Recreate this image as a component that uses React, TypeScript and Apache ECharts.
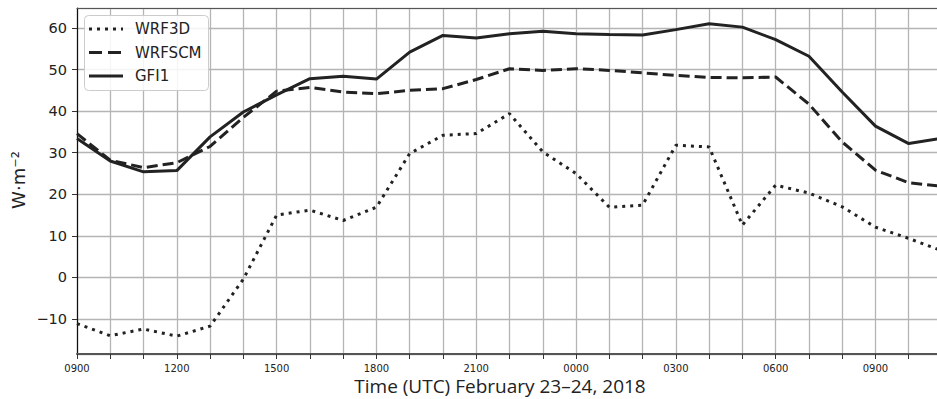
import React, { useEffect, useRef } from "react";
import * as echarts from "echarts";

const hours: number[] = Array.from({ length: 27 }, (_, i) => i); // 0 = 0900 Feb 23
const wrf3d = [-11.1, -14.0, -12.4, -14.1, -11.7, -0.4, 15.0, 16.2, 13.7, 16.9, 29.8, 34.2, 34.6, 39.4, 30.2, 25.0, 16.9, 17.4, 31.8, 31.4, 12.6, 22.2, 20.3, 17.0, 12.1, 9.4, 6.4];
const wrfscm = [34.6, 28.2, 26.4, 27.6, 31.5, 38.5, 44.8, 45.7, 44.6, 44.2, 45.0, 45.4, 47.6, 50.2, 49.8, 50.2, 49.8, 49.2, 48.6, 48.1, 48.0, 48.2, 41.7, 32.6, 25.8, 22.8, 21.9];
const gfi1 = [33.4, 28.0, 25.4, 25.7, 33.8, 39.8, 43.9, 47.8, 48.4, 47.7, 54.2, 58.2, 57.6, 58.6, 59.2, 58.6, 58.4, 58.3, 59.6, 61.0, 60.2, 57.2, 53.2, 44.6, 36.4, 32.2, 33.5];
const seriesNames = ["WRF3D", "WRFSCM", "GFI1"];
const yMin = -18.4;
const yMax = 64.8;

const hourLabel = (h: number) => {
  const hh = (9 + h) % 24;
  return (hh < 10 ? "0" : "") + hh + "00";
};

export default function App() {
  const ref = useRef<HTMLDivElement>(null);
  useEffect(() => {
    if (!ref.current) return;
    const chart = echarts.init(ref.current, undefined, { renderer: "svg" });
    const ink = "#222222";
    const dashes: (number[] | null)[] = [[3, 5], [11, 5], null];
    const legendDashes: (number[] | null)[] = [[3, 5], [13, 6], null];
    const pair = (arr: number[]) => hours.map((h, i) => [h, arr[i]]);
    const legendRows = [29, 52.5, 76];
    const legendGraphics: any[] = [
      {
        type: "rect",
        shape: { x: 84.5, y: 15.5, width: 124, height: 75, r: 4 },
        style: { fill: "rgba(255,255,255,0.85)", stroke: "#cccccc", lineWidth: 1 },
        z: 10,
      },
    ];
    seriesNames.forEach((name, i) => {
      legendGraphics.push({
        type: "line",
        shape: { x1: 89, y1: legendRows[i], x2: 123, y2: legendRows[i] },
        style: { stroke: ink, lineWidth: 3, lineDash: legendDashes[i] || undefined },
        z: 11,
      });
      legendGraphics.push({
        type: "text",
        x: 135,
        y: legendRows[i],
        style: {
          text: name,
          font: '15px "DejaVu Sans"',
          fill: ink,
          textAlign: "left",
          textVerticalAlign: "middle",
        },
        z: 11,
      });
    });
    chart.setOption({
      animation: false,
      backgroundColor: "#ffffff",
      grid: { left: 77, top: 8, right: 1.3, bottom: 45, containLabel: false },
      xAxis: [
        {
          type: "value",
          min: 0,
          max: 26,
          interval: 1,
          axisLine: { show: true, onZero: false, lineStyle: { color: "#555555", width: 2 } },
          axisTick: { show: true, length: 5, lineStyle: { color: "#333333", width: 1 } },
          axisLabel: {
            margin: 9,
            fontFamily: "DejaVu Sans",
            fontSize: 10,
            color: ink,
            formatter: (v: number) => (v % 3 === 0 ? hourLabel(v) : ""),
          },
          splitLine: { show: true, lineStyle: { color: "#b4b4b4", width: 1.3 } },
        },
        {
          type: "value",
          position: "top",
          min: 0,
          max: 26,
          axisLine: { show: true, onZero: false, lineStyle: { color: "#555555", width: 1.2 } },
          axisTick: { show: false },
          axisLabel: { show: false },
          splitLine: { show: false },
        },
      ],
      yAxis: {
        type: "value",
        min: yMin,
        max: yMax,
        splitNumber: 8,
        axisLine: { show: true, onZero: false, lineStyle: { color: "#111111", width: 1.2 } },
        axisTick: { show: true, length: 5, lineStyle: { color: "#333333" } },
        axisLabel: {
          margin: 10,
          showMinLabel: false,
          showMaxLabel: false,
          fontFamily: "DejaVu Sans",
          fontSize: 14.5,
          color: ink,
          formatter: (v: number) => String(v).replace("-", "\u2212"),
        },
        splitLine: { show: true, lineStyle: { color: "#b4b4b4", width: 1.3 } },
      },
      graphic: [
        {
          type: "text",
          x: 500,
          y: 386,
          style: {
            text: "Time (UTC) February 23\u201324, 2018",
            font: '19px "Open Sans"',
            fill: ink,
            textAlign: "center",
            textVerticalAlign: "middle",
          },
        },
        {
          type: "text",
          x: 18,
          y: 180,
          rotation: Math.PI / 2,
          style: {
            text: "W\u00b7m\u207b\u00b2",
            font: '18px "DejaVu Sans"',
            fill: ink,
            textAlign: "center",
            textVerticalAlign: "middle",
          },
        },
        ...legendGraphics,
      ],
      series: seriesNames.map((name, i) => ({
        name,
        type: "line",
        data: pair([wrf3d, wrfscm, gfi1][i]),
        symbol: "none",
        lineStyle: { color: ink, width: 3, type: dashes[i] || "solid" },
        itemStyle: { color: ink },
        z: 3 + i,
      })),
    });
    return () => chart.dispose();
  }, []);
  return (
    <div style={{ position: "fixed", left: 0, top: 0, width: 937, height: 399, overflow: "hidden", background: "#fff" }}>
      <div ref={ref} style={{ width: 945, height: 399 }} />
    </div>
  );
}
